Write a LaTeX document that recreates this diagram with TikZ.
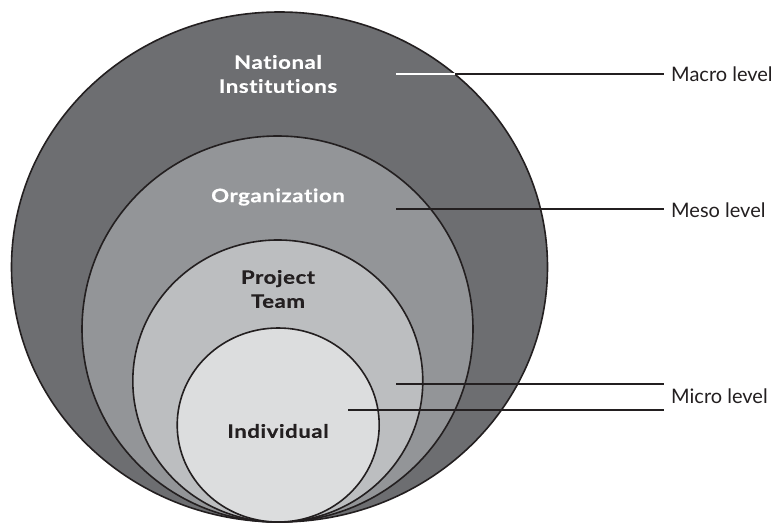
\documentclass[tikz,border=0pt]{standalone}
\usepackage{fontspec}
\setmainfont{Lato}[Ligatures=NoCommon]
\newfontfamily\inlabfont{Lato}[FakeStretch=1.2, LetterSpace=3, Ligatures=NoCommon, FakeBold=0.6]
\definecolor{ink}{HTML}{231F20}
\definecolor{cmacro}{HTML}{6D6E71}
\definecolor{cmeso}{HTML}{939598}
\definecolor{cteam}{HTML}{BCBEC0}
\definecolor{cind}{HTML}{DCDDDE}
\tikzset{
  ring/.style={draw=ink, line width=1.6pt},
  inlabel/.style={font=\inlabfont\bfseries\fontsize{18.5}{24}\selectfont, align=center, inner sep=0pt},
  levlabel/.style={font=\fontsize{20}{22}\selectfont, text=ink, anchor=west, inner sep=0pt},
  conn/.style={draw=ink, line width=2pt},
}
\begin{document}
\begin{tikzpicture}[x=1pt,y=-1pt]
\useasboundingbox (0,0) rectangle (777,524);
\fill[white] (0,0) rectangle (777,524);
% rings
\path[ring, fill=cmacro] (279.5,267) ellipse [x radius=268pt, y radius=255pt];
\path[ring, fill=cmeso] (277.5,329) ellipse [x radius=195.5pt, y radius=193pt];
\path[ring, fill=cteam] (277.8,381) ellipse [x radius=145pt, y radius=141pt];
\path[ring, fill=cind] (278.2,425) ellipse [x radius=101pt, y radius=97pt];
% inner labels
\node[inlabel, text=white] (nat) at (278,74) {National\\Institutions};
\node[inlabel, text=white] (org) at (278,197) {Organization};
\node[inlabel, text=ink] (team) at (278,289) {Project\\Team};
\node[inlabel, text=ink] (ind) at (278,431) {Individual};
% level labels
\node[levlabel] (macro) at (671,74) {Macro level};
\node[levlabel] (meso) at (671,210) {Meso level};
\node[levlabel] (micro) at (671,396) {Micro level};
% connectors
\coordinate (a1) at (396,74);
\coordinate (a2) at (454.8,74);
\coordinate (b1) at (396,209);
\coordinate (c1) at (396,384);
\coordinate (d1) at (348,409.5);
\draw[line width=2pt, white] (a1) -- (a2);
\draw[conn] (a2) -- ([xshift=-7pt]a2 -| macro.west);
\draw[conn] (b1) -- ([xshift=-7pt]b1 -| meso.west);
\draw[conn] (c1) -- ([xshift=-7pt]c1 -| micro.west);
\draw[conn] (d1) -- ([xshift=-7pt]d1 -| micro.west);
\end{tikzpicture}
\end{document}
